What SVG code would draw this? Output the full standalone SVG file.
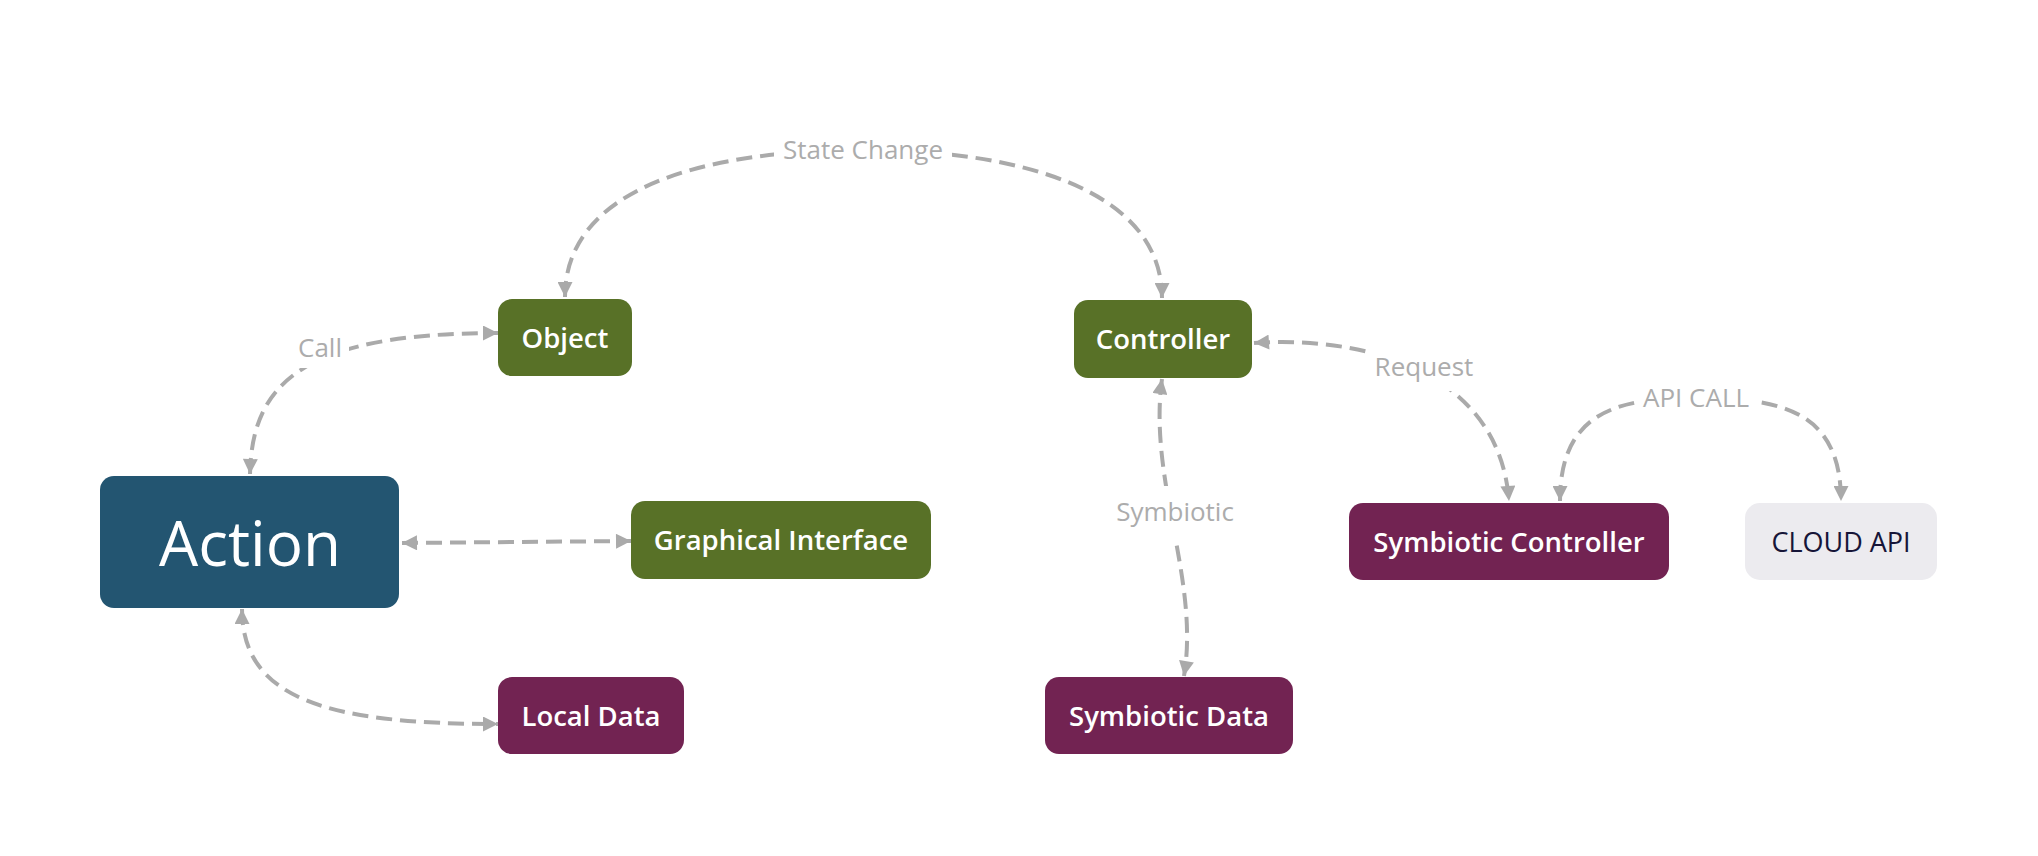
<svg xmlns="http://www.w3.org/2000/svg" width="2038" height="856" viewBox="0 0 2038 856">
<style>
.node-text{font-family:"Open Sans","Liberation Sans",sans-serif;font-weight:600;font-size:27.5px;fill:#ffffff;text-anchor:middle;dominant-baseline:central}
.edge{fill:none;stroke:#aaaaaa;stroke-width:4;stroke-dasharray:16 8;marker-start:url(#arr);marker-end:url(#arr)}
.lbl-bg{fill:#ffffff}
.lbl{font-family:"Open Sans","Liberation Sans",sans-serif;font-size:26px;fill:#acacac;text-anchor:middle;dominant-baseline:central}
.green{fill:#587127}
.purple{fill:#722352}
</style>
<defs>
<marker id="arr" viewBox="0 0 10 10" refX="10" refY="5" markerUnits="userSpaceOnUse" markerWidth="16" markerHeight="15" orient="auto-start-reverse">
<path d="M0,0 L10,5 L0,10 z" fill="#aaaaaa"/>
</marker>
</defs>
<rect width="2038" height="856" fill="#ffffff"/>
<g id="connectors">
<path class="edge" d="M565,297 C565,190 700,150 863,150 C1020,150 1162,190 1162,298"/>
<path class="edge" d="M250,474 C252,385 300,333 498,333"/>
<path class="edge" d="M402,543 L631,541"/>
<path class="edge" d="M242,609 C242,700 330,724 498,724"/>
<path class="edge" d="M1162,379 C1148,480 1200,580 1184,676"/>
<path class="edge" d="M1254,343 C1380,335 1500,380 1509,501"/>
<path class="edge" d="M1560,501 C1560,410 1620,398 1697,398 C1780,398 1841,410 1841,501"/>
<g id="edge-labels">
<rect class="lbl-bg" x="774" y="132" width="178" height="36"/>
<text class="lbl" x="863" y="149">State Change</text>
<rect class="lbl-bg" x="291" y="328" width="58" height="40"/>
<text class="lbl" x="320" y="347">Call</text>
<rect class="lbl-bg" x="1367" y="346" width="113" height="45"/>
<text class="lbl" x="1424" y="366">Request</text>
<rect class="lbl-bg" x="1108" y="486" width="134" height="52"/>
<text class="lbl" x="1175" y="511">Symbiotic</text>
<rect class="lbl-bg" x="1635" y="380" width="122" height="30"/>
<text class="lbl" x="1696" y="397">API CALL</text>
</g>
</g>
<g id="node-action">
<rect x="100" y="476" width="299" height="132" rx="14" fill="#235571"/>
<text class="node-text" x="250" y="542" style="font-size:62px;font-weight:400">Action</text>
</g>
<g id="node-object">
<rect class="green" x="498" y="299" width="134" height="77" rx="14"/>
<text class="node-text" x="565" y="337">Object</text>
</g>
<g id="node-graphical-interface">
<rect class="green" x="631" y="501" width="300" height="78" rx="14"/>
<text class="node-text" x="781" y="539">Graphical Interface</text>
</g>
<g id="node-local-data">
<rect class="purple" x="498" y="677" width="186" height="77" rx="14"/>
<text class="node-text" x="591" y="715">Local Data</text>
</g>
<g id="node-controller">
<rect class="green" x="1074" y="300" width="178" height="78" rx="14"/>
<text class="node-text" x="1163" y="338">Controller</text>
</g>
<g id="node-symbiotic-data">
<rect class="purple" x="1045" y="677" width="248" height="77" rx="14"/>
<text class="node-text" x="1169" y="715">Symbiotic Data</text>
</g>
<g id="node-symbiotic-controller">
<rect class="purple" x="1349" y="503" width="320" height="77" rx="14"/>
<text class="node-text" x="1509" y="541">Symbiotic Controller</text>
</g>
<g id="node-cloud-api">
<rect x="1745" y="503" width="192" height="77" rx="15" fill="#ecebef"/>
<text class="node-text" x="1841" y="541" style="fill:#161538;font-weight:400;font-size:27px">CLOUD API</text>
</g>
</svg>
